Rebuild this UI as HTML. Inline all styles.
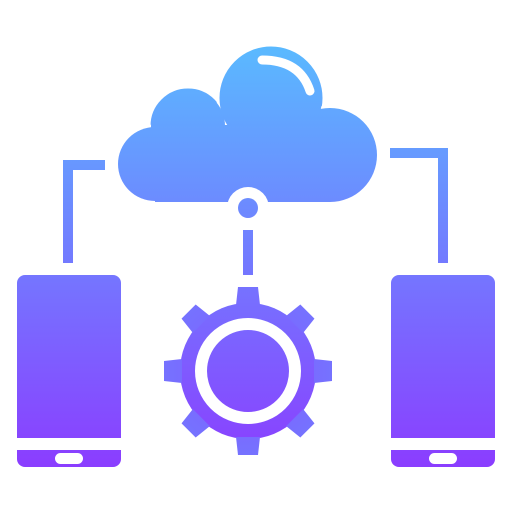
<!DOCTYPE html>
<html><head><style>html,body{margin:0;padding:0;background:#fff}svg{display:block}</style></head>
<body>
<svg width="512" height="512" viewBox="0 0 512 512" xmlns="http://www.w3.org/2000/svg">
<defs>
<linearGradient id="g" gradientUnits="userSpaceOnUse" x1="0" y1="45" x2="0" y2="470">
<stop offset="0" stop-color="#5abaff"/>
<stop offset="1" stop-color="#8b3cff"/>
</linearGradient>
<linearGradient id="g2" gradientUnits="userSpaceOnUse" x1="0" y1="-326" x2="0" y2="99">
<stop offset="0" stop-color="#5abaff"/>
<stop offset="1" stop-color="#8b3cff"/>
</linearGradient>
</defs>
<g fill="url(#g)">
<path d="M105 160 H63 V263 H73 V170 H105 Z"/>
<path d="M390 148 H448 V263 H438 V158 H390 Z"/>
<rect x="243" y="230" width="10" height="45"/>
<g stroke="#fff" stroke-width="3">
<circle cx="188" cy="126" r="39"/>
<circle cx="271" cy="98" r="53"/>
<circle cx="330" cy="155" r="48"/>
<circle cx="155" cy="164" r="38"/>
</g>
<rect x="160" y="125" width="165" height="77"/>
<circle cx="188" cy="126" r="37"/>
<circle cx="271" cy="98" r="51"/>
<circle cx="155" cy="164" r="37" />
<path d="M155 150 H330 V202 H155Z"/>
<circle cx="330" cy="155" r="47"/>
<circle cx="248" cy="208" r="21" fill="#fff"/>
<circle cx="248" cy="208" r="10"/>
<path d="M25 275 H113 A8 8 0 0 1 121 283 V438 H17 V283 A8 8 0 0 1 25 275Z"/>
<path d="M17 450 H121 V459 A8 8 0 0 1 113 467 H25 A8 8 0 0 1 17 459Z"/>
<path d="M399 275 H487 A8 8 0 0 1 495 283 V438 H391 V283 A8 8 0 0 1 399 275Z"/>
<path d="M391 450 H495 V459 A8 8 0 0 1 487 467 H399 A8 8 0 0 1 391 459Z"/>
</g>
<g transform="translate(248,371)" fill="url(#g2)">
<circle r="68"/>
<path id="t" d="M-10,-84 H10 L12,-66 H-12Z"/>
<use href="#t" transform="rotate(45)"/>
<use href="#t" transform="rotate(90)"/>
<use href="#t" transform="rotate(135)"/>
<use href="#t" transform="rotate(180)"/>
<use href="#t" transform="rotate(225)"/>
<use href="#t" transform="rotate(270)"/>
<use href="#t" transform="rotate(315)"/>
<circle r="47" fill="none" stroke="#fff" stroke-width="12"/>
</g>
<path d="M262 60 Q300 60 310 91" fill="none" stroke="#fff" stroke-width="9" stroke-linecap="round"/>
<rect x="55" y="453" width="28" height="11" rx="5.5" fill="#fff"/>
<rect x="429" y="453" width="28" height="11" rx="5.5" fill="#fff"/>
</svg>
</body></html>
